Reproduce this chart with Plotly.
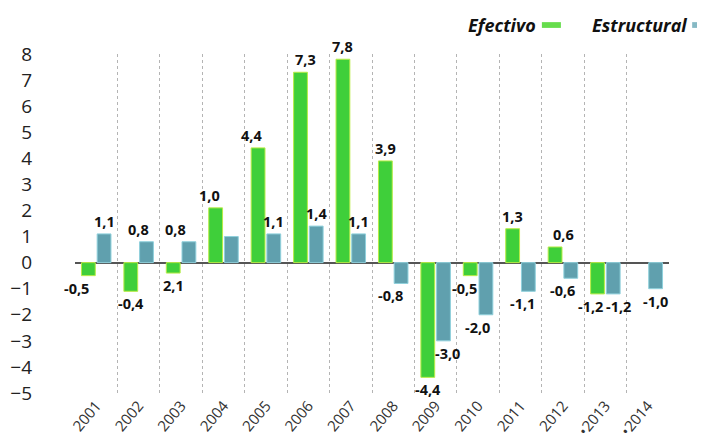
import plotly.graph_objects as go

years = ["2001", "2002", "2003", "2004", "2005", "2006", "2007",
         "2008", "2009", "2010", "2011", "2012", "•2013", "•2014"]
efectivo = [-0.5, -1.1, -0.4, 2.1, 4.4, 7.3, 7.8, 3.9, -4.4, -0.5, 1.3, 0.6, -1.2, None]
estructural = [1.1, 0.8, 0.8, 1.0, 1.1, 1.4, 1.1, -0.8, -3.0, -2.0, -1.1, -0.6, -1.2, -1.0]
efectivo_labels = ["-0,5", "-0,4", "2,1", "1,0", "4,4", "7,3", "7,8", "3,9", "-4,4", "-0,5", "1,3", "0,6", "-1,2", ""]
estructural_labels = ["1,1", "0,8", "0,8", "", "1,1", "1,4", "1,1", "-0,8", "-3,0", "-2,0", "-1,1", "-0,6", "-1,2", "-1,0"]

# label nudges (pixels), styling only
ef_nudge = [-12, 0, 0, -6, -6, 5, 0, 0, 0, -6, 0, 9, -7, 0]
es_nudge = [0, -8, -14, 0, 0, 0, 0, -11, 4, -9, -6, -8, 5, 0]

GREEN = "#3fcf3a"
BLUE = "#60a0ae"
FONT = "Open Sans"

fig = go.Figure()
fig.add_trace(go.Bar(x=years, y=efectivo, name="Efectivo",
                     marker=dict(color=GREEN, line=dict(color="#b8ec46", width=1))))
fig.add_trace(go.Bar(x=years, y=estructural, name="Estructural",
                     marker=dict(color=BLUE, line=dict(color="#8fd0dc", width=1))))

annotations = []
for series, labels, nudge, shift in [(efectivo, efectivo_labels, ef_nudge, -8),
                                     (estructural, estructural_labels, es_nudge, 8)]:
    for i, (v, lab, n) in enumerate(zip(series, labels, nudge)):
        if not lab or v is None:
            continue
        annotations.append(dict(
            x=i, y=v, xref="x", yref="y", text=lab, showarrow=False,
            xshift=shift + n, yshift=1 if v > 0 else -1,
            yanchor="bottom" if v > 0 else "top",
            font=dict(family=FONT, size=14.5, color="#111", weight="bold"),
        ))

# legend as text followed by swatches
annotations.append(dict(x=0.780, y=1.086, xref="paper", yref="paper", text="<b><i>Efectivo</i></b>",
                        showarrow=False, xanchor="right", yanchor="middle",
                        font=dict(family=FONT, size=18, color="#111")))
annotations.append(dict(x=1.033, y=1.086, xref="paper", yref="paper", text="<b><i>Estructural</i></b>",
                        showarrow=False, xanchor="right", yanchor="middle",
                        font=dict(family=FONT, size=18, color="#111")))
shapes = [
    dict(type="rect", xref="paper", yref="paper", x0=0.786, x1=0.818, y0=1.077, y1=1.094,
         fillcolor="#66dd4c", line=dict(width=0)),
    dict(type="rect", xref="paper", yref="paper", x0=1.039, x1=1.071, y0=1.077, y1=1.094,
         fillcolor="#86b9c4", line=dict(width=0)),
]

fig.update_layout(
    width=705, height=440,
    margin=dict(l=67, r=44, t=46, b=55),
    paper_bgcolor="white", plot_bgcolor="white",
    barmode="group", bargap=0.26, bargroupgap=0.12,
    showlegend=False,
    annotations=annotations, shapes=shapes,
    font=dict(family=FONT, color="#222"),
)
fig.update_xaxes(
    type="category", range=[-0.5, len(years) - 0.5], tickson="boundaries", showgrid=True,
    gridcolor="#b4b4b4", griddash="dot", gridwidth=1,
    tickangle=-50, ticks="", showline=False, zeroline=False,
    tickfont=dict(family=FONT, size=15, color="#333"),
    automargin=False,
)
fig.update_yaxes(
    range=[-5, 8], dtick=1, showgrid=False,
    zeroline=True, zerolinecolor="#555", zerolinewidth=1.5,
    ticks="", showline=False, ticklabelstandoff=42,
    tickfont=dict(family=FONT, size=19, color="#222"),
    automargin=False,
)

fig.write_html("out.html")
